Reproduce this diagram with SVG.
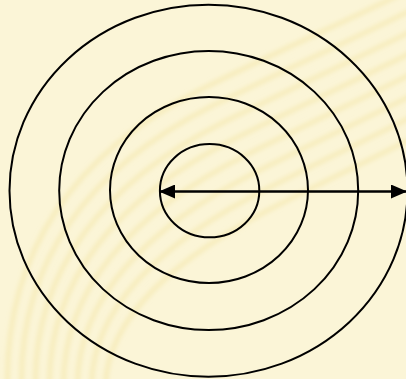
<svg xmlns="http://www.w3.org/2000/svg" width="406" height="379" viewBox="0 0 406 379">
  <defs>
    <style>
      .ring { fill: none; stroke: #000; stroke-width: 2; }
      .stripe { fill: none; stroke: #F2E29E; stroke-width: 5; opacity: 0.45; }
      .conn { stroke: #000; stroke-width: 2.5; fill: none; }
    </style>
    <filter id="soft" x="-10%" y="-10%" width="120%" height="120%">
      <feGaussianBlur stdDeviation="2"/>
    </filter>
    <marker id="head" viewBox="0 0 16 14" refX="15" refY="7" markerWidth="16" markerHeight="14" markerUnits="userSpaceOnUse" orient="auto-start-reverse">
      <path d="M0,0 L16,7 L0,14 Z" fill="#000"/>
    </marker>
  </defs>
  <rect width="406" height="379" fill="#FBF5D7"/>
  <g id="background-stripes" filter="url(#soft)">
    <path class="stripe" d="M8,400 C0,250 80,150 200,90 S420,-10 460,-40"/>
    <path class="stripe" d="M22,400 C14,260 94,165 212,106 S430,6 470,-24"/>
    <path class="stripe" d="M36,400 C28,270 108,180 224,122 S440,22 480,-8"/>
    <path class="stripe" d="M50,400 C42,280 122,195 236,138 S450,38 490,8"/>
    <path class="stripe" d="M64,400 C56,290 136,210 248,154 S460,54 500,24"/>
    <path class="stripe" d="M78,400 C70,300 150,225 260,170 S470,70 510,40"/>
    <path class="stripe" d="M92,400 C84,310 164,240 272,186 S480,86 520,56"/>
    <path class="stripe" d="M106,400 C98,320 178,255 284,202 S490,102 530,72"/>
  </g>
  <g id="ring-outer"><ellipse class="ring" cx="208.5" cy="190.7" rx="199" ry="186"/></g>
  <g id="ring-3"><ellipse class="ring" cx="208.7" cy="190.5" rx="149.5" ry="139.5"/></g>
  <g id="ring-2"><ellipse class="ring" cx="209" cy="190" rx="99" ry="93"/></g>
  <g id="ring-inner"><ellipse class="ring" cx="209.6" cy="190.7" rx="49.7" ry="46.6"/></g>
  <g id="connectors">
    <line class="conn" x1="160" y1="191.5" x2="406" y2="191.5" marker-start="url(#head)" marker-end="url(#head)"/>
  </g>
</svg>
